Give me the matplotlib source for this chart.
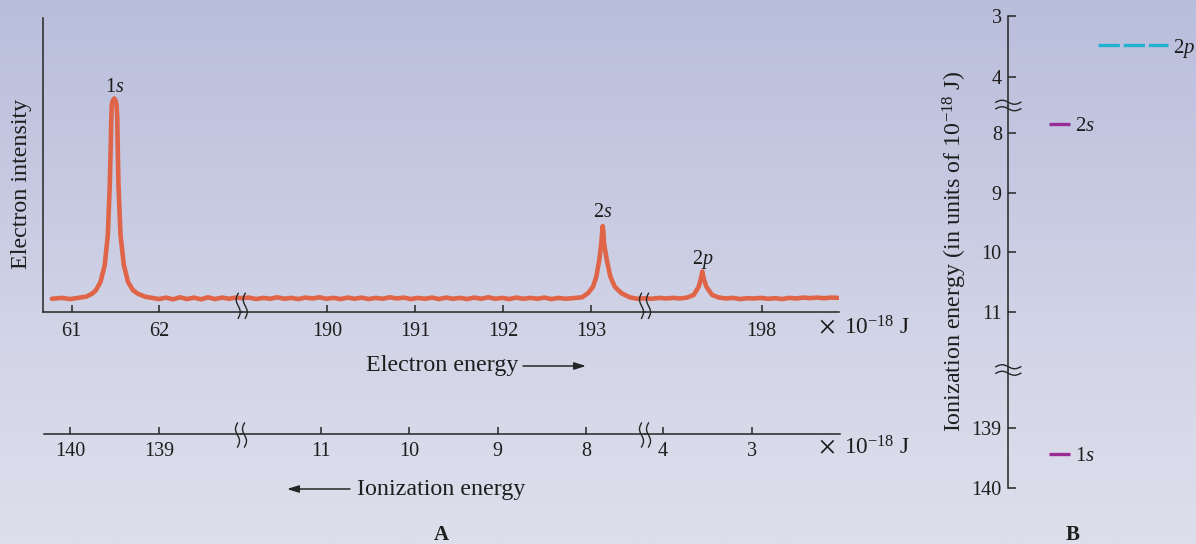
import numpy as np
import matplotlib
matplotlib.use('Agg')
import matplotlib.pyplot as plt
from matplotlib.lines import Line2D
from matplotlib.colors import LinearSegmentedColormap

plt.rcParams['font.family'] = ['Liberation Serif', 'DejaVu Serif']
plt.rcParams['mathtext.fontset'] = 'custom'
plt.rcParams['mathtext.rm'] = 'Liberation Serif'
plt.rcParams['mathtext.it'] = 'Liberation Serif:italic'
plt.rcParams['mathtext.bf'] = 'Liberation Serif:bold'

# ---------------- data (energies in units of 1e-18 J) ----------------
# Panel A spectrum, segment 1 (around the 1s peak)
e_seg1 = [60.774, 60.889, 60.981, 61.072, 61.164, 61.233, 61.278, 61.330, 61.379, 61.414,
          61.436, 61.446, 61.454, 61.459, 61.469, 61.487, 61.505, 61.514, 61.522, 61.528,
          61.536, 61.559, 61.597, 61.645, 61.702, 61.759, 61.840, 61.920, 62.000, 62.080,
          62.160, 62.241, 62.321, 62.401, 62.481, 62.561, 62.641, 62.721, 62.801, 62.881,
          62.960]
i_seg1 = [0.046, 0.049, 0.045, 0.049, 0.053, 0.063, 0.075, 0.103, 0.161, 0.263,
          0.432, 0.551, 0.660, 0.704, 0.718, 0.7265, 0.718, 0.704, 0.660, 0.551,
          0.432, 0.263, 0.161, 0.103, 0.075, 0.063, 0.053, 0.049, 0.045, 0.050,
          0.044, 0.051, 0.045, 0.050, 0.044, 0.051, 0.045, 0.050, 0.046, 0.050,
          0.048]
# segment 2 (around the 2s peak)
e_seg2 = [189.00, 189.11, 189.19, 189.27, 189.35, 189.43, 189.51, 189.59,
          189.67, 189.75, 189.83, 189.91, 189.99, 190.07, 190.15, 190.23,
          190.31, 190.39, 190.47, 190.55, 190.63, 190.71, 190.79, 190.87,
          190.95, 191.03, 191.11, 191.19, 191.27, 191.35, 191.43, 191.51,
          191.59, 191.67, 191.75, 191.83, 191.91, 191.99, 192.07, 192.15,
          192.23, 192.31, 192.39, 192.47, 192.55, 192.63, 192.71, 192.79,
          192.898, 192.966, 193.023, 193.060, 193.094, 193.117, 193.127, 193.133,
          193.140, 193.148, 193.179, 193.220, 193.270, 193.345, 193.440, 193.523,
          193.650]
i_seg2 = [0.048, 0.050, 0.045, 0.049, 0.046, 0.051, 0.046, 0.049,
          0.045, 0.050, 0.047, 0.051, 0.046, 0.049, 0.045, 0.050,
          0.046, 0.050, 0.045, 0.049, 0.046, 0.051, 0.047, 0.050,
          0.045, 0.049, 0.046, 0.050, 0.045, 0.050, 0.046, 0.049,
          0.045, 0.050, 0.046, 0.051, 0.046, 0.049, 0.045, 0.050,
          0.046, 0.049, 0.046, 0.050, 0.045, 0.049, 0.046, 0.048,
          0.051, 0.065, 0.087, 0.121, 0.178, 0.2345, 0.273, 0.293,
          0.273, 0.2345, 0.178, 0.121, 0.087, 0.065, 0.051, 0.046,
          0.048]
# segment 3 (around the 2p peak)
e_seg3 = [196.650, 196.752, 196.832, 196.911, 196.991, 197.071, 197.150, 197.226, 197.283,
          197.309, 197.324, 197.339, 197.370, 197.435, 197.514, 197.593, 197.673, 197.753,
          197.833, 197.912, 197.992, 198.072, 198.152, 198.231, 198.311, 198.390, 198.470,
          198.549, 198.629, 198.709, 198.788, 198.868]
i_seg3 = [0.048, 0.046, 0.049, 0.047, 0.049, 0.047, 0.050, 0.059, 0.087,
          0.1155, 0.1386, 0.1155, 0.087, 0.059, 0.050, 0.047, 0.049, 0.045,
          0.048, 0.047, 0.049, 0.046, 0.048, 0.045, 0.049, 0.047, 0.050,
          0.048, 0.050, 0.048, 0.050, 0.049]
peak_labels = ['1$\\mathit{s}$', '2$\\mathit{s}$', '2$\\mathit{p}$']

# electron-energy axis ticks
ee_ticks_seg1 = [61, 62]
ee_ticks_seg2 = [190, 191, 192, 193]
ee_ticks_seg3 = [198]
# ionization-energy axis ticks (photon energy 201 minus electron energy)
ie_ticks_seg1 = [140, 139]
ie_ticks_seg2 = [11, 10, 9, 8]
ie_ticks_seg3 = [4, 3]

# Panel B energy levels
level_names = ['2$\\mathit{p}$', '2$\\mathit{s}$', '1$\\mathit{s}$']
level_values = [3.47, 7.855, 139.43]
b_ticks_seg1 = [3, 4]
b_ticks_seg2 = [8, 9, 10, 11]
b_ticks_seg3 = [139, 140]

# ---------------- figure ----------------
W, H = 1196, 544
fig = plt.figure(figsize=(W / 100, H / 100), dpi=100)
INK = '#262626'
CURVE = '#df6448'
CYAN = '#22b2cf'
PURPLE = '#9a2c95'
TICK_FS = 14.5
LABEL_FS = 17.3


def rect(x0, y0, x1, y1):
    return [x0 / W, 1 - y1 / H, (x1 - x0) / W, (y1 - y0) / H]


def fp(x, y):
    return (x / W, 1 - y / H)


# background gradient
bg = fig.add_axes([0, 0, 1, 1], zorder=-10)
cmap = LinearSegmentedColormap.from_list('bg', ['#b9bedb', '#c6c9e1', '#d4d6e8', '#dedfec'])
bg.imshow(np.linspace(0, 1, 256)[:, None], aspect='auto', cmap=cmap,
          extent=[0, 1, 0, 1], origin='upper')
bg.axis('off')

# ---- Panel A: spectrum (electron energy) ----
top_specs = [
    (43.3, 241.7, (60.675, 62.947), e_seg1, i_seg1, ee_ticks_seg1, 4.7),
    (241.7, 645.0, (189.026, 193.614), e_seg2, i_seg2, ee_ticks_seg2, 6.3),
    (645.0, 839.0, (196.672, 198.879), e_seg3, i_seg3, ee_ticks_seg3, 5.4),
]
for k, (x0, x1, xl, e, it, ticks, loff) in enumerate(top_specs):
    ax = fig.add_axes(rect(x0, 18, x1, 312.3))
    ax.set_facecolor('none')
    ax.plot(e, it, color=CURVE, lw=3.3, solid_capstyle='round', solid_joinstyle='round')
    ax.set_xlim(*xl)
    ax.set_ylim(0, 1)
    for s in ('top', 'right'):
        ax.spines[s].set_visible(False)
    ax.spines['left'].set_visible(k == 0)
    for s in ('left', 'bottom'):
        ax.spines[s].set_color(INK)
        ax.spines[s].set_linewidth(1.1)
    ax.set_yticks([])
    ax.set_xticks(ticks)
    ax.set_xticklabels([str(t) for t in ticks])
    ax.tick_params(axis='x', direction='in', length=5.3, width=1.1, color=INK,
                   pad=7.3, labelsize=TICK_FS, labelcolor='#1e1e1e')
    j = int(np.argmax(it))
    ax.annotate(peak_labels[k], xy=(e[j], it[j]), xytext=(0, loff),
                textcoords='offset points', ha='center', va='baseline',
                fontsize=14.5, color='#1e1e1e')

# ---- Panel A: ionization energy scale ----
bot_specs = [
    (44.0, 241.0, (140.293, 138.074), ie_ticks_seg1),
    (241.0, 645.0, (11.900, 7.337), ie_ticks_seg2),
    (645.0, 840.0, (4.199, 2.008), ie_ticks_seg3),
]
for x0, x1, xl, ticks in bot_specs:
    ax = fig.add_axes(rect(x0, 400, x1, 434.3))
    ax.set_facecolor('none')
    ax.set_xlim(*xl)
    ax.set_ylim(0, 1)
    for s in ('top', 'right', 'left'):
        ax.spines[s].set_visible(False)
    ax.spines['bottom'].set_color(INK)
    ax.spines['bottom'].set_linewidth(1.1)
    ax.set_yticks([])
    ax.set_xticks(ticks)
    ax.set_xticklabels([str(t) for t in ticks])
    ax.tick_params(axis='x', direction='in', length=5.3, width=1.1, color=INK,
                   pad=5.3, labelsize=TICK_FS, labelcolor='#1e1e1e')


def vbreak(xc, yc, h, sep=7.0, amp=2.0):
    t = np.linspace(0, 1, 50)
    for dx in (-sep / 2, sep / 2):
        xs = xc + dx - amp * np.sin(2 * np.pi * t)
        ys = yc - h / 2 + h * t
        fig.add_artist(Line2D(xs / W, 1 - ys / H, transform=fig.transFigure,
                              color=INK, lw=1.0, zorder=5))


def hbreak(xc, yc, w, sep=6.5, amp=2.0):
    t = np.linspace(0, 1, 50)
    for dy in (-sep / 2, sep / 2):
        xs = xc - w / 2 + w * t
        ys = yc + dy - amp * np.sin(2 * np.pi * t)
        fig.add_artist(Line2D(xs / W, 1 - ys / H, transform=fig.transFigure,
                              color=INK, lw=1.0, zorder=5))


vbreak(241.7, 305.8, 25)
vbreak(645.0, 305.8, 25)
vbreak(241.0, 435.0, 24)
vbreak(645.0, 435.0, 24)

for yy in (328, 448):
    fig.text(*fp(827, yy + 1), '×', ha='center', va='center', fontsize=24,
             fontweight='light', color='#1e1e1e')
    fig.text(*fp(844, yy), '10$^{-18}$ J', ha='left', va='center', fontsize=LABEL_FS - 0.5,
             color='#1e1e1e')

fig.text(*fp(21.7, 184), 'Electron intensity', rotation=90, ha='center', va='center',
         fontsize=LABEL_FS, color='#1e1e1e')
fig.text(*fp(366, 366), 'Electron energy', ha='left', va='center', fontsize=LABEL_FS,
         color='#1e1e1e')
fig.add_artist(plt.Annotation('', xy=fp(586, 366), xytext=fp(523, 366),
                              xycoords='figure fraction', textcoords='figure fraction',
                              arrowprops=dict(arrowstyle='-|>,head_length=0.7,head_width=0.22',
                                              color=INK, lw=1.1, shrinkA=0, shrinkB=0)))
fig.text(*fp(357, 489), 'Ionization energy', ha='left', va='center', fontsize=LABEL_FS,
         color='#1e1e1e')
fig.add_artist(plt.Annotation('', xy=fp(287, 489), xytext=fp(350, 489),
                              xycoords='figure fraction', textcoords='figure fraction',
                              arrowprops=dict(arrowstyle='-|>,head_length=0.7,head_width=0.22',
                                              color=INK, lw=1.1, shrinkA=0, shrinkB=0)))
fig.text(*fp(441, 535), 'A', ha='center', va='center', fontsize=15, fontweight='bold',
         color='#1e1e1e')

# ---- Panel B: energy levels ----
b_specs = [
    (16.0, 106.0, (4.483, 3.0), b_ticks_seg1),
    (106.0, 370.0, (11.964, 7.554), b_ticks_seg2),
    (370.0, 488.3, (140.0, 138.048), b_ticks_seg3),
]
b_axes = []
for y0, y1, yl, ticks in b_specs:
    ax = fig.add_axes(rect(1008.3, y0, 1196, y1))
    ax.set_facecolor('none')
    ax.set_ylim(*yl)
    ax.set_xlim(0, 1)
    for s in ('top', 'right', 'bottom'):
        ax.spines[s].set_visible(False)
    ax.spines['left'].set_color(INK)
    ax.spines['left'].set_linewidth(1.1)
    ax.set_xticks([])
    ax.set_yticks(ticks)
    ax.set_yticklabels([str(t) for t in ticks])
    ax.tick_params(axis='y', direction='in', length=5.8, width=1.1, color=INK,
                   pad=4.7, labelsize=TICK_FS, labelcolor='#1e1e1e')
    b_axes.append(ax)

level_axes = [b_axes[0], b_axes[1], b_axes[2]]
level_span = [(0.476, 0.851), (0.218, 0.329), (0.218, 0.329)]
level_colors = [CYAN, PURPLE, PURPLE]
level_styles = [(0, (6.4, 1.15)), '-', '-']
for ax, name, val, (xa, xb), c, ls in zip(level_axes, level_names, level_values,
                                          level_span, level_colors, level_styles):
    ax.plot([xa, xb], [val, val], transform=ax.get_yaxis_transform(), color=c, lw=2.4,
            linestyle=ls, dash_capstyle='butt', solid_capstyle='butt', clip_on=False)
    ax.annotate(name, xy=(xb, val), xycoords=ax.get_yaxis_transform(), xytext=(3.6, 0),
                textcoords='offset points', ha='left', va='center_baseline',
                fontsize=15, color='#1e1e1e', annotation_clip=False)

hbreak(1008.3, 105.5, 25)
hbreak(1008.3, 370.0, 25)

fig.text(*fp(955, 251), 'Ionization energy (in units of 10$^{-18}$ J)', rotation=90,
         ha='center', va='center', fontsize=LABEL_FS, color='#1e1e1e')
fig.text(*fp(1073, 535), 'B', ha='center', va='center', fontsize=15, fontweight='bold',
         color='#1e1e1e')

fig.savefig('out.png', dpi=100)
